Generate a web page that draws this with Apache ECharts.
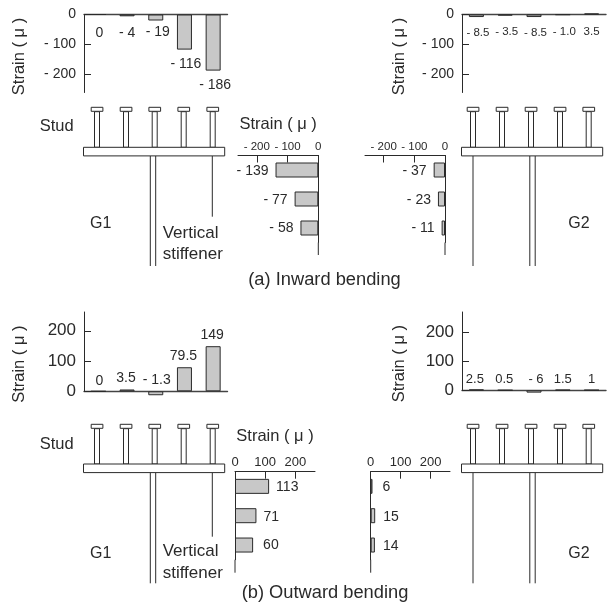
<!DOCTYPE html>
<html><head><meta charset="utf-8">
<style>html,body{margin:0;padding:0;background:#fff}#c{width:607px;height:603px}</style>
<script src="https://cdn.jsdelivr.net/npm/echarts@6/dist/echarts.min.js"></script>
</head><body><div id="c"></div>
<script>
// ---- data ----
const studs = ['S1','S2','S3','S4','S5'];
const depths = ['D1','D2','D3'];
const inwardG1StudValues = [0,-6,-20,-117,-187];
const inwardG1StudLabels = ['0','- 4','- 19','- 116','- 186'];
const inwardG2StudValues = [-8.5,-3.5,-8.5,-1,3.5];
const inwardG2StudLabels = ['- 8.5','- 3.5','- 8.5','- 1.0','3.5'];
const inwardG1WebValues = [-139,-77,-58];
const inwardG1WebLabels = ['- 139','- 77','- 58'];
const inwardG2WebValues = [-37,-23,-11];
const inwardG2WebLabels = ['- 37','- 23','- 11'];
const outwardG1StudValues = [0,6,-13,79.5,149];
const outwardG1StudLabels = ['0','3.5','- 1.3','79.5','149'];
const outwardG2StudValues = [2.5,0.5,-8,1.5,1];
const outwardG2StudLabels = ['2.5','0.5','- 6','1.5','1'];
const outwardG1WebValues = [113,71,60];
const outwardG1WebLabels = ['113','71','60'];
const outwardG2WebValues = [6,15,14];
const outwardG2WebLabels = ['6','15','14'];
const negTicks = [-200,-100,0];
const posTicks = [0,100,200];
const axisTitle = 'Strain ( μ )';
const captionA = '(a) Inward bending';
const captionB = '(b) Outward bending';

const FONT='"Liberation Sans",Arial,sans-serif', INK='#2a2a2a', FILL='#c8c8c8';
const fmt=v=>v<0?'- '+Math.abs(v):String(v);
const grids=[],xAxes=[],yAxes=[],series=[];

function vPanel(o){
  const i=grids.length;
  grids.push({left:o.left,top:o.top,width:o.width,height:o.height});
  xAxes.push({gridIndex:i,type:'category',data:studs,axisLine:{onZero:true,lineStyle:{color:'#444',width:1.4}},axisTick:{show:false},axisLabel:{show:false},splitLine:{show:false}});
  yAxes.push({gridIndex:i,type:'value',min:o.min,max:o.max,
    name:axisTitle,nameLocation:'middle',nameRotate:90,nameGap:o.nameGap,
    nameTextStyle:{fontFamily:FONT,fontSize:16.5,color:INK,padding:[0,o.namePad,0,0]},
    axisLine:{show:true,onZero:false,lineStyle:{color:INK}},
    axisTick:{show:true,inside:true,length:7,customValues:o.ticks,lineStyle:{color:INK}},
    axisLabel:{margin:8,fontFamily:FONT,fontSize:o.tickSize,color:INK,customValues:o.ticks,formatter:fmt},
    splitLine:{show:false}});
  series.push({type:'bar',xAxisIndex:i,yAxisIndex:i,barWidth:15,clip:false,silent:true,
    itemStyle:{color:FILL,borderColor:INK,borderWidth:1},
    data:o.values.map((v,k)=>({value:v,label:{show:true,position:o.labelSide,distance:o.dist[k],offset:[o.dx[k],0],
      formatter:o.labels[k],fontFamily:FONT,fontSize:o.labelSize,color:INK}}))});
}
function hPanel(o){
  const i=grids.length;
  grids.push({left:o.left,top:o.top,width:o.width,height:o.height});
  const x={gridIndex:i,type:'value',min:o.min,max:o.max,position:'top',
    axisLine:{show:true,onZero:false,lineStyle:{color:INK}},
    axisTick:{show:true,inside:true,length:7,customValues:o.ticks,lineStyle:{color:INK}},
    axisLabel:{margin:3,fontFamily:FONT,fontSize:o.tickSize,color:INK,customValues:o.ticks,formatter:fmt},
    splitLine:{show:false}};
  if(o.title){x.name=axisTitle;x.nameLocation='middle';x.nameGap=o.nameGap;x.nameTextStyle={fontFamily:FONT,fontSize:16.5,color:INK};}
  xAxes.push(x);
  yAxes.push({gridIndex:i,type:'category',inverse:true,data:depths,axisLine:{show:true,onZero:true,lineStyle:{color:INK}},axisTick:{show:false},axisLabel:{show:false},splitLine:{show:false}});
  series.push({type:'bar',xAxisIndex:i,yAxisIndex:i,barWidth:15,clip:false,silent:true,
    itemStyle:{color:FILL,borderColor:INK,borderWidth:1},
    data:o.values.map((v,k)=>({value:v,label:{show:true,position:v<0?'left':'right',distance:o.dist[k],offset:[0,o.dy[k]],
      formatter:o.labels[k],fontFamily:FONT,fontSize:14,color:INK}}))});
}

vPanel({left:84,top:14.5,width:143.5,height:78,min:-260,max:0,ticks:negTicks,tickSize:14,nameGap:56,namePad:6,labelSide:'bottom',
  values:inwardG1StudValues,labels:inwardG1StudLabels,labelSize:14,dist:[11,9.5,4.5,7.5,7.5],dx:[1,0,2,1.5,2]});
vPanel({left:462,top:14.5,width:144,height:78,min:-260,max:0,ticks:negTicks,tickSize:14,nameGap:54,namePad:6,labelSide:'bottom',
  values:inwardG2StudValues,labels:inwardG2StudLabels,labelSize:11.5,dist:[9.5,10.5,9.5,11,11],dx:[1.5,1.5,1.5,1.5,0]});
vPanel({left:84,top:312,width:143.5,height:79.3,min:0,max:262,ticks:posTicks,tickSize:17,nameGap:56,namePad:25,labelSide:'top',
  values:outwardG1StudValues,labels:outwardG1StudLabels,labelSize:14,dist:[3,4,4,4,4],dx:[1,-1,1,-1,-1]});
vPanel({left:462,top:312,width:144,height:78.3,min:0,max:270,ticks:posTicks,tickSize:17,nameGap:54,namePad:25,labelSide:'top',
  values:outwardG2StudValues,labels:outwardG2StudLabels,labelSize:13,dist:[4,4,4,4,4],dx:[-1.5,-1,2,0,0]});
hPanel({left:238,top:155.5,width:80.3,height:87,min:-261,max:0,ticks:negTicks,tickSize:11.5,title:true,nameGap:23,
  values:inwardG1WebValues,labels:inwardG1WebLabels,dist:[7,7,7],dy:[1,1,0]});
hPanel({left:365,top:155.5,width:80,height:87,min:-261,max:0,ticks:negTicks,tickSize:11.5,title:false,
  values:inwardG2WebValues,labels:inwardG2WebLabels,dist:[7,7,7],dy:[1,1,0]});
hPanel({left:235,top:471.7,width:80,height:88,min:0,max:265,ticks:posTicks,tickSize:13,title:true,nameGap:27,
  values:outwardG1WebValues,labels:outwardG1WebLabels,dist:[7,7,10],dy:[1,1,0]});
hPanel({left:370.7,top:471.7,width:79.3,height:88,min:0,max:265,ticks:posTicks,tickSize:13,title:false,
  values:outwardG2WebValues,labels:outwardG2WebLabels,dist:[10,8,8],dy:[1,1,1]});

// ---- structural schematic ----
const g=[];
const line=(x1,y1,x2,y2,c)=>g.push({type:'line',silent:true,shape:{x1,y1,x2,y2},style:{stroke:c||INK,lineWidth:1}});
const rect=(x,y,width,height)=>g.push({type:'rect',silent:true,z:5,shape:{x,y,width,height},style:{fill:'#fff',stroke:INK,lineWidth:1}});
const text=(t,x,y,size,align)=>g.push({type:'text',silent:true,x,y,style:{text:t,fontFamily:FONT,fontSize:size,fill:INK,align:align||'center',verticalAlign:'middle'}});
function girder(o){
  o.studX.forEach(x=>{rect(x-2.5,o.top+4.4,5,o.plateY-o.top-4.4);rect(x-5.8,o.top,11.7,4);});
  rect(o.plateX,o.plateY,141.2,8.6);
  line(o.webX-2.7,o.plateY+8.6,o.webX-2.7,o.end);
  line(o.webX+2.7,o.plateY+8.6,o.webX+2.7,o.end);
  line(o.stiffX,o.plateY+8.6,o.stiffX,o.stiffEnd);
}
const leftX=[97,126,154.7,183.7,212.7], rightX=[473,502,531,560,588.7];
girder({studX:leftX,top:107.3,plateY:147.3,plateX:83.5,webX:153,stiffX:212.3,stiffEnd:216.7,end:266});
girder({studX:rightX,top:107.3,plateY:147.3,plateX:461.5,webX:532.5,stiffX:473,stiffEnd:266,end:266});
girder({studX:leftX,top:424.3,plateY:464,plateX:83.5,webX:153,stiffX:212.3,stiffEnd:536.7,end:583.3});
girder({studX:rightX,top:424.3,plateY:464,plateX:461.5,webX:532.5,stiffX:473,stiffEnd:583.3,end:583.3});
// extension of the vertical axes past the last bar
line(318.3,242.5,318.3,255); line(445,242.5,445,255); line(235,559.7,235,572.7); line(370.7,559.7,370.7,572.7);
text('Stud',56.7,126.7,16.5); text('Stud',56.7,444,16.5);
text('G1',100.7,223.3,16); text('G2',579,223.3,16); text('G1',100.7,554,16); text('G2',579,554,16);
text('Vertical',162.7,233.3,17,'left'); text('stiffener',162.7,254.3,17,'left');
text('Vertical',162.7,551.3,17,'left'); text('stiffener',162.7,573.3,17,'left');
text(captionA,324.5,280,18.3); text(captionB,325,592.7,18.3);

const chart=echarts.init(document.getElementById('c'),null,{renderer:'canvas'});
chart.setOption({animation:false,backgroundColor:'#fff',grid:grids,xAxis:xAxes,yAxis:yAxes,series,graphic:g,tooltip:{show:false}});
</script></body></html>
